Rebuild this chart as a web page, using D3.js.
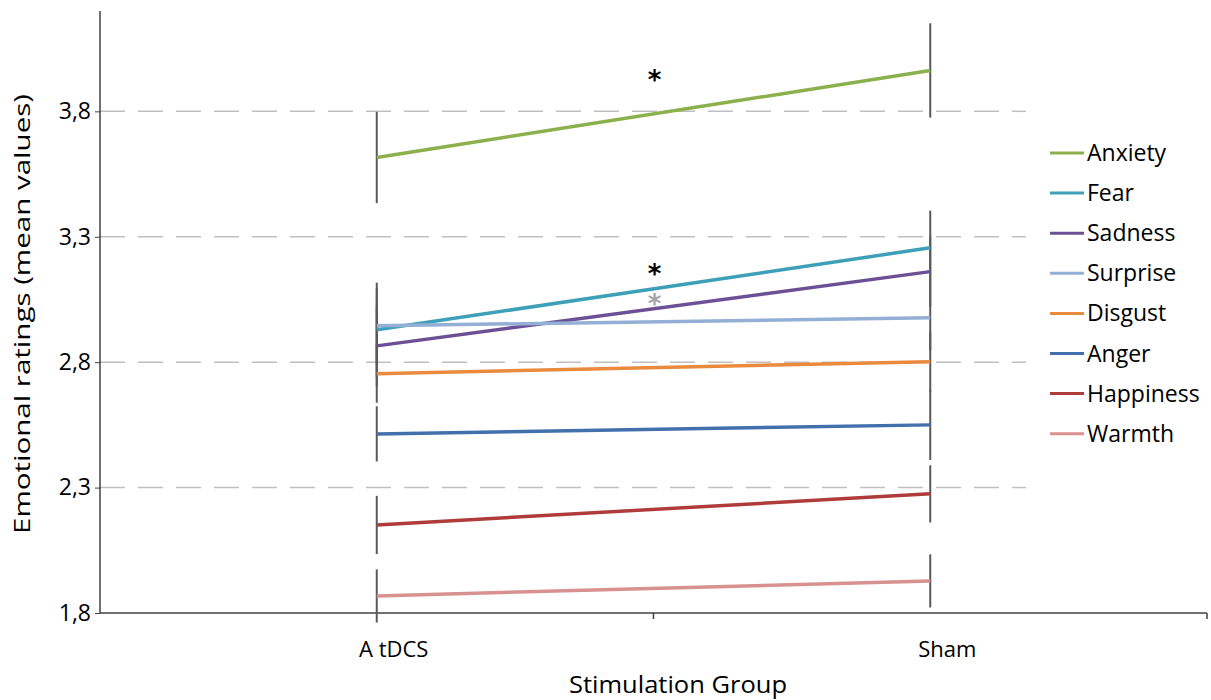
<!DOCTYPE html>
<html>
<head>
<meta charset="utf-8">
<script src="https://cdn.jsdelivr.net/npm/d3@7"></script>
<style>
  body { margin: 0; background: #fff; }
  text { font-family: "Open Sans", "Noto Sans", sans-serif; fill: #000; }
</style>
</head>
<body>
<div class="chart"></div>
<script>
// data
var groups = ["A tDCS", "Sham"];
var emotions = ["Anxiety", "Fear", "Sadness", "Surprise", "Disgust", "Anger", "Happiness", "Warmth"];
var tdcsMeans = [3.616, 2.929, 2.865, 2.945, 2.754, 2.514, 2.151, 1.868];
var shamMeans = [3.963, 3.256, 3.161, 2.977, 2.802, 2.550, 2.275, 1.928];
var tdcsErr = [0.182, 0.188, 0.16, 0.15, 0.116, 0.11, 0.116, 0.106];
var shamErr = [0.188, 0.148, 0.14, 0.13, 0.12, 0.14, 0.114, 0.106];
var colors = ["#8cb04c", "#3ea0b8", "#6c5096", "#93afd6", "#e98a3c", "#4170ad", "#b03b3b", "#d8918f"];
var yTicks = [1.8, 2.3, 2.8, 3.3, 3.8];
var gridTicks = [2.3, 2.8, 3.3, 3.8];
// significance marks: value, colour
var starValues = [3.951, 3.181, 3.061];
var starColors = ["#000", "#000", "#a6a6a6"];

var svgWidth = 1211, svgHeight = 700;
var svg = d3.select(".chart").append("svg")
  .attr("width", svgWidth)
  .attr("height", svgHeight);

var x = d3.scaleBand().domain(groups).range([100, 1207]);
var y = d3.scaleLinear().domain([1.8, 4.2]).range([613, 11]);
var cx = function(g) { return x(g) + x.bandwidth() / 2; };

// dashed gridlines
svg.append("g").selectAll("line")
  .data(gridTicks)
  .enter().append("line")
  .attr("x1", 100).attr("x2", 1026)
  .attr("y1", d => y(d)).attr("y2", d => y(d))
  .attr("stroke", "#bfbfbf")
  .attr("stroke-width", 1.5)
  .attr("stroke-dasharray", "25,13");

// y axis
var leftAxis = d3.axisLeft(y)
  .tickValues(yTicks)
  .tickSize(5)
  .tickFormat(d => d3.format(".1f")(d).replace(".", ","));
var yg = svg.append("g").attr("transform", "translate(100,0)").call(leftAxis);
yg.select(".domain").attr("stroke", "#404040").attr("stroke-width", 1.5).attr("d", "M0,11V613");
yg.selectAll(".tick line").attr("stroke", "#404040");
yg.selectAll(".tick text").attr("x", -9).style("font-size", "23px").attr("fill", "#000");

// x axis (ticks at band boundaries)
var xg = svg.append("g").attr("transform", "translate(0,613)");
xg.append("line").attr("x1", 100).attr("x2", 1207).attr("y1", 0).attr("y2", 0)
  .attr("stroke", "#404040").attr("stroke-width", 1.5);
xg.selectAll(".bt")
  .data(groups.slice(1).concat(["end"]))
  .enter().append("line")
  .attr("x1", d => d === "end" ? 1207 : x(d))
  .attr("x2", d => d === "end" ? 1207 : x(d))
  .attr("y1", 0).attr("y2", 6)
  .attr("stroke", "#404040").attr("stroke-width", 1.5);
xg.selectAll(".gl")
  .data(groups)
  .enter().append("text")
  .attr("x", d => cx(d) + 17)
  .attr("y", 44)
  .attr("text-anchor", "middle")
  .style("font-size", "22px")
  .text(d => d);

// axis titles
svg.append("text")
  .attr("x", 678).attr("y", 693)
  .attr("text-anchor", "middle")
  .style("font-size", "23px")
  .attr("textLength", 218)
  .attr("lengthAdjust", "spacingAndGlyphs")
  .text("Stimulation Group");
svg.append("text")
  .attr("transform", "translate(30,314) rotate(-90)")
  .attr("text-anchor", "middle")
  .style("font-size", "22px")
  .attr("textLength", 440)
  .attr("lengthAdjust", "spacingAndGlyphs")
  .text("Emotional ratings (mean values)");

// build rows
var rows = emotions.map(function(e, i) {
  return {
    name: e, color: colors[i],
    pts: [
      { g: groups[0], v: tdcsMeans[i], e: tdcsErr[i] },
      { g: groups[1], v: shamMeans[i], e: shamErr[i] }
    ]
  };
});

// error bars
var errs = [];
rows.forEach(r => r.pts.forEach(p => errs.push(p)));
svg.append("g").selectAll("line")
  .data(errs)
  .enter().append("line")
  .attr("x1", d => cx(d.g)).attr("x2", d => cx(d.g))
  .attr("y1", d => y(d.v + d.e)).attr("y2", d => y(d.v - d.e))
  .attr("stroke", "#595959")
  .attr("stroke-width", 2);

// series lines
var line = d3.line().x(d => cx(d.g)).y(d => y(d.v));
svg.append("g").selectAll("path")
  .data(rows)
  .enter().append("path")
  .attr("d", d => line(d.pts))
  .attr("fill", "none")
  .attr("stroke", d => d.color)
  .attr("stroke-width", 3.5);

// asterisks
svg.append("g").selectAll("text")
  .data(starValues)
  .enter().append("text")
  .attr("x", x(groups[1]) + 1)
  .attr("y", d => y(d) + 16)
  .attr("text-anchor", "middle")
  .style("font-family", "DejaVu Sans")
  .style("font-weight", "bold")
  .style("font-size", "26px")
  .style("fill", (d, i) => starColors[i])
  .text("*");

// legend
var legend = svg.append("g").attr("transform", "translate(1050,153)");
var item = legend.selectAll("g")
  .data(rows)
  .enter().append("g")
  .attr("transform", (d, i) => "translate(0," + (i * 40.1) + ")");
item.append("line")
  .attr("x1", 0).attr("x2", 34).attr("y1", 0).attr("y2", 0)
  .attr("stroke", d => d.color).attr("stroke-width", 3);
item.append("text")
  .attr("x", 37).attr("y", 8)
  .style("font-size", "23px")
  .text(d => d.name);
</script>
</body>
</html>
